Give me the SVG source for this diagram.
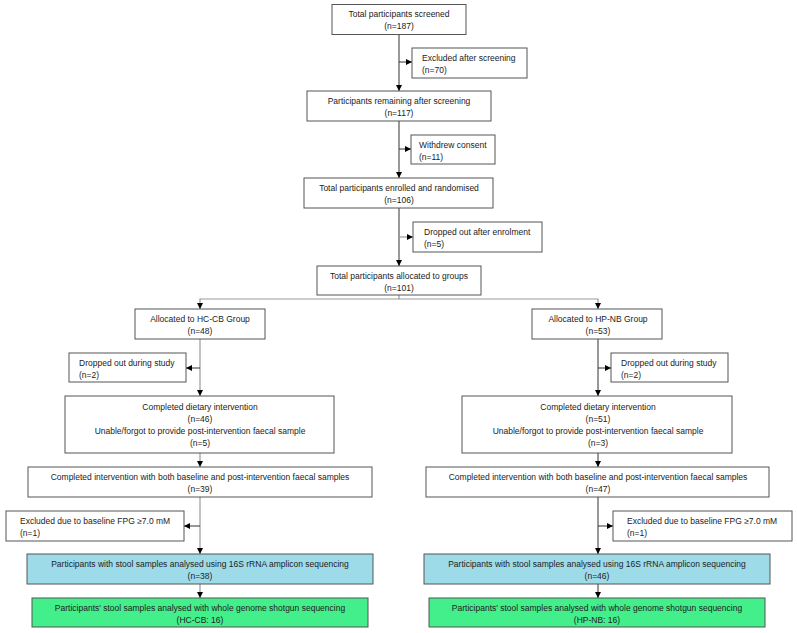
<svg xmlns="http://www.w3.org/2000/svg" width="797" height="633" viewBox="0 0 797 633">
<defs>
<marker id="ah" viewBox="0 0 10 10" refX="10" refY="5" markerWidth="6" markerHeight="6" markerUnits="userSpaceOnUse" orient="auto">
<path d="M0,0 L10,5 L0,10 z" fill="#000"/>
</marker>
<style>
.box{fill:#fff;stroke:#555;stroke-width:1}
.blue{fill:#9ddbe9;stroke:#555;stroke-width:1}
.green{fill:#42ef8a;stroke:#555;stroke-width:1}
text{font-family:"Liberation Sans",Arial,sans-serif;font-size:8.5px;fill:#222}
.c{text-anchor:middle}
.ln{fill:none;stroke:#333;stroke-width:1}
.lg{fill:none;stroke:#999;stroke-width:1.2}
</style>
</defs>
<rect width="797" height="633" fill="#fff"/>
<g id="connectors">
<path class="ln" d="M399,34 V91" marker-end="url(#ah)"/>
<path class="ln" d="M399,62 H412" marker-end="url(#ah)"/>
<path class="ln" d="M399,121 V178" marker-end="url(#ah)"/>
<path class="ln" d="M399,149 H411" marker-end="url(#ah)"/>
<path class="ln" d="M399,208 V266" marker-end="url(#ah)"/>
<path class="lg" d="M399,237 H413" marker-end="url(#ah)"/>
<path class="lg" d="M399,295 V299 H200 V309" marker-end="url(#ah)"/>
<path class="lg" d="M399,299 H598 V309" marker-end="url(#ah)"/>
<path class="lg" d="M200,339 V396" marker-end="url(#ah)"/>
<path class="ln" d="M200,368 H186" marker-end="url(#ah)"/>
<path class="lg" d="M200,453 V467" marker-end="url(#ah)"/>
<path class="lg" d="M200,497 V554" marker-end="url(#ah)"/>
<path class="ln" d="M200,526 H184" marker-end="url(#ah)"/>
<path class="lg" d="M200,584 V598" marker-end="url(#ah)"/>
<path class="ln" d="M598,339 V396" marker-end="url(#ah)"/>
<path class="ln" d="M598,368 H611" marker-end="url(#ah)"/>
<path class="ln" d="M598,453 V467" marker-end="url(#ah)"/>
<path class="ln" d="M598,497 V554" marker-end="url(#ah)"/>
<path class="ln" d="M598,526 H613" marker-end="url(#ah)"/>
<path class="ln" d="M598,584 V598" marker-end="url(#ah)"/>
</g>
<g id="screened">
<rect class="box" x="332" y="4.5" width="134" height="30"/>
<text class="c" x="399" y="17">Total participants screened</text>
<text class="c" x="399" y="29">(n=187)</text>
</g>
<g id="excluded-screening">
<rect class="box" x="412" y="48" width="115" height="30"/>
<text x="422" y="61">Excluded after screening</text>
<text x="422" y="73">(n=70)</text>
</g>
<g id="remaining">
<rect class="box" x="307" y="91" width="184" height="30"/>
<text class="c" x="399" y="104">Participants remaining after screening</text>
<text class="c" x="399" y="116">(n=117)</text>
</g>
<g id="withdrew">
<rect class="box" x="411" y="135" width="84" height="29"/>
<text x="419" y="148">Withdrew consent</text>
<text x="419" y="160">(n=11)</text>
</g>
<g id="enrolled">
<rect class="box" x="304" y="178" width="189" height="30"/>
<text class="c" x="399" y="191">Total participants enrolled and randomised</text>
<text class="c" x="399" y="203">(n=106)</text>
</g>
<g id="dropped-enrolment">
<rect class="box" x="413" y="222" width="129" height="30"/>
<text x="424" y="235">Dropped out after enrolment</text>
<text x="424" y="247">(n=5)</text>
</g>
<g id="allocated">
<rect class="box" x="317" y="266" width="164" height="29"/>
<text class="c" x="399" y="279">Total participants allocated to groups</text>
<text class="c" x="399" y="291">(n=101)</text>
</g>
<g id="hccb">
<rect class="box" x="135" y="309" width="130" height="30"/>
<text class="c" x="200" y="322">Allocated to HC-CB Group</text>
<text class="c" x="200" y="334">(n=48)</text>
</g>
<g id="hpnb">
<rect class="box" x="532" y="309" width="130" height="30"/>
<text class="c" x="598" y="322">Allocated to HP-NB Group</text>
<text class="c" x="598" y="334">(n=53)</text>
</g>
<g id="dropped-left">
<rect class="box" x="69" y="353" width="117" height="29"/>
<text x="79" y="366">Dropped out during study</text>
<text x="79" y="378">(n=2)</text>
</g>
<g id="dropped-right">
<rect class="box" x="611" y="353" width="117" height="29"/>
<text x="621" y="366">Dropped out during study</text>
<text x="621" y="378">(n=2)</text>
</g>
<g id="completed-left">
<rect class="box" x="65" y="396" width="269" height="57"/>
<text class="c" x="200" y="410">Completed dietary intervention</text>
<text class="c" x="200" y="422">(n=46)</text>
<text class="c" x="200" y="434">Unable/forgot to provide post-intervention faecal sample</text>
<text class="c" x="200" y="446">(n=5)</text>
</g>
<g id="completed-right">
<rect class="box" x="462" y="396" width="270" height="57"/>
<text class="c" x="598" y="410">Completed dietary intervention</text>
<text class="c" x="598" y="422">(n=51)</text>
<text class="c" x="598" y="434">Unable/forgot to provide post-intervention faecal sample</text>
<text class="c" x="598" y="446">(n=3)</text>
</g>
<g id="both-left">
<rect class="box" x="28" y="467" width="344" height="30"/>
<text class="c" x="200" y="480">Completed intervention with both baseline and post-intervention faecal samples</text>
<text class="c" x="200" y="492">(n=39)</text>
</g>
<g id="both-right">
<rect class="box" x="426" y="467" width="343" height="30"/>
<text class="c" x="598" y="480">Completed intervention with both baseline and post-intervention faecal samples</text>
<text class="c" x="598" y="492">(n=47)</text>
</g>
<g id="fpg-left">
<rect class="box" x="6" y="511" width="178" height="30"/>
<text x="20" y="524">Excluded due to baseline FPG ≥7.0 mM</text>
<text x="20" y="536">(n=1)</text>
</g>
<g id="fpg-right">
<rect class="box" x="613" y="511" width="179" height="30"/>
<text x="627" y="524">Excluded due to baseline FPG ≥7.0 mM</text>
<text x="627" y="536">(n=1)</text>
</g>
<g id="rrna-left">
<rect class="blue" x="27" y="554" width="346" height="30"/>
<text class="c" x="200" y="567">Participants with stool samples analysed using 16S rRNA amplicon sequencing</text>
<text class="c" x="200" y="579">(n=38)</text>
</g>
<g id="rrna-right">
<rect class="blue" x="424" y="554" width="346" height="30"/>
<text class="c" x="597" y="567">Participants with stool samples analysed using 16S rRNA amplicon sequencing</text>
<text class="c" x="597" y="579">(n=46)</text>
</g>
<g id="wgs-left">
<rect class="green" x="32" y="598" width="336" height="29"/>
<text class="c" x="200" y="611">Participants' stool samples analysed with whole genome shotgun sequencing</text>
<text class="c" x="200" y="623">(HC-CB: 16)</text>
</g>
<g id="wgs-right">
<rect class="green" x="429" y="598" width="336" height="29"/>
<text class="c" x="597" y="611">Participants' stool samples analysed with whole genome shotgun sequencing</text>
<text class="c" x="597" y="623">(HP-NB: 16)</text>
</g>
</svg>
